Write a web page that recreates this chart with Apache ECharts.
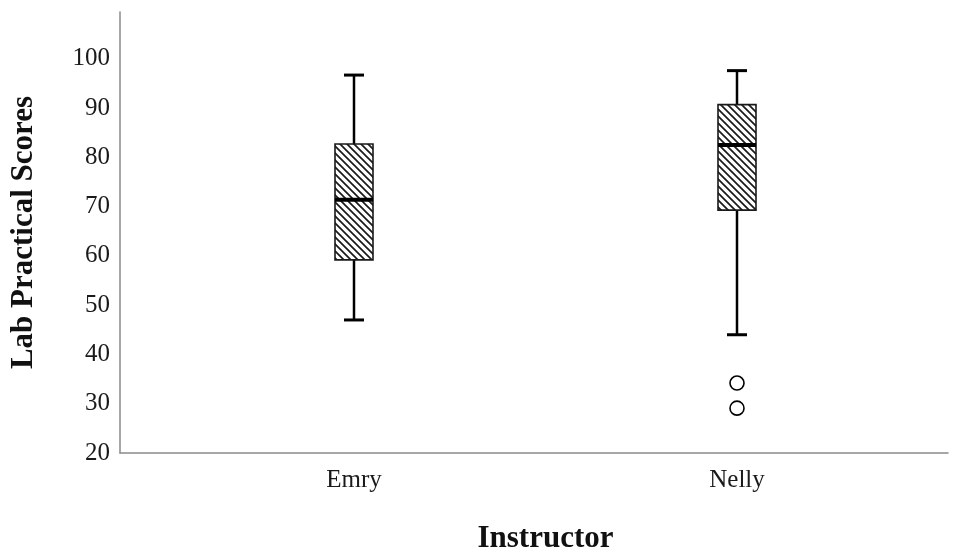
<!DOCTYPE html>
<html><head><meta charset="utf-8">
<script src="https://cdn.jsdelivr.net/npm/echarts@6/dist/echarts.min.js"></script>
<style>html,body{margin:0;padding:0;background:#fff}#chart{width:958px;height:547px}</style>
</head><body><div id="chart"></div>
<script>
// ---- data ----
const categories = ['Emry', 'Nelly'];
const whiskerLow = [47, 44];
const q1 = [59.2, 69.3];
const median = [71.4, 82.5];
const q3 = [82.7, 90.7];
const whiskerHigh = [96.7, 97.6];
const outlierCats = ['Nelly', 'Nelly'];
const outlierVals = [34.2, 29.1];
const yMin = 20, yMax = 109.5, yInterval = 10;
const xTitle = 'Instructor';
const yTitle = 'Lab Practical Scores';

// ---- hatch pattern ----
function makeHatch() {
  const s = 7;
  const c = document.createElement('canvas');
  c.width = s; c.height = s;
  const g = c.getContext('2d');
  g.fillStyle = '#fff'; g.fillRect(0, 0, s, s);
  g.strokeStyle = '#1a1a1a'; g.lineWidth = 1.7;
  g.beginPath();
  g.moveTo(-1, -1); g.lineTo(s + 1, s + 1);
  g.moveTo(-1, s - 1); g.lineTo(1, s + 1);
  g.moveTo(s - 1, -1); g.lineTo(s + 1, 1);
  g.stroke();
  return { image: c, repeat: 'repeat' };
}
const hatch = makeHatch();

const boxData = categories.map((c, i) => [i, whiskerLow[i], q1[i], median[i], q3[i], whiskerHigh[i]]);
const outlierData = outlierCats.map((c, i) => [c, outlierVals[i]]);

const serif = 'Liberation Serif';
const chart = echarts.init(document.getElementById('chart'), null, { renderer: 'canvas' });
chart.setOption({
  animation: false,
  backgroundColor: '#fff',
  grid: [
    { left: 120, right: 10, top: 12, bottom: 94, outerBoundsMode: 'none', containLabel: false },
    { left: 162.5, right: 29.5, top: 12, bottom: 94, outerBoundsMode: 'none', containLabel: false }
  ],
  xAxis: [
    { gridIndex: 0, type: 'value', min: 0, max: 1,
      axisLine: { show: true, onZero: false, lineStyle: { color: '#8a8a8a', width: 1.5 } },
      axisTick: { show: false }, axisLabel: { show: false }, splitLine: { show: false } },
    { gridIndex: 1, type: 'category', data: categories,
      axisLine: { show: false }, axisTick: { show: false }, splitLine: { show: false },
      axisLabel: { fontFamily: serif, fontSize: 25, color: '#1a1a1a', margin: 15 },
      name: xTitle, nameLocation: 'middle', nameGap: 70,
      nameTextStyle: { fontFamily: serif, fontSize: 31, fontWeight: 'bold', color: '#111' } }
  ],
  yAxis: [
    { gridIndex: 0, type: 'value', min: yMin, max: yMax, interval: yInterval,
      axisLine: { show: true, onZero: false, lineStyle: { color: '#8a8a8a', width: 1.5 } },
      axisTick: { show: false }, splitLine: { show: false },
      axisLabel: { fontFamily: serif, fontSize: 25, color: '#1a1a1a', margin: 10, showMaxLabel: false },
      name: yTitle, nameLocation: 'middle', nameGap: 81,
      nameTextStyle: { fontFamily: serif, fontSize: 31, fontWeight: 'bold', color: '#111' } },
    { gridIndex: 1, type: 'value', min: yMin, max: yMax, interval: yInterval, show: false,
      splitLine: { show: false } }
  ],
  series: [
    {
      type: 'custom', xAxisIndex: 1, yAxisIndex: 1,
      data: boxData,
      encode: { x: 0, y: [1, 2, 3, 4, 5] },
      renderItem: function (params, api) {
        const xi = api.value(0);
        const pLow = api.coord([xi, api.value(1)]);
        const pQ1 = api.coord([xi, api.value(2)]);
        const pMed = api.coord([xi, api.value(3)]);
        const pQ3 = api.coord([xi, api.value(4)]);
        const pHigh = api.coord([xi, api.value(5)]);
        const cx = pLow[0];
        const half = 19, capHalf = 10;
        const ws = { stroke: '#000', lineWidth: 2.5 };
        return {
          type: 'group',
          children: [
            { type: 'line', shape: { x1: cx, y1: pLow[1], x2: cx, y2: pQ1[1] }, style: ws },
            { type: 'line', shape: { x1: cx, y1: pQ3[1], x2: cx, y2: pHigh[1] }, style: ws },
            { type: 'line', shape: { x1: cx - capHalf, y1: pLow[1], x2: cx + capHalf, y2: pLow[1] }, style: { stroke: '#000', lineWidth: 3 } },
            { type: 'line', shape: { x1: cx - capHalf, y1: pHigh[1], x2: cx + capHalf, y2: pHigh[1] }, style: { stroke: '#000', lineWidth: 3 } },
            { type: 'rect', shape: { x: cx - half, y: pQ3[1], width: 2 * half, height: pQ1[1] - pQ3[1] },
              style: { fill: hatch, stroke: '#1a1a1a', lineWidth: 1.6 } },
            { type: 'line', shape: { x1: cx - half, y1: pMed[1], x2: cx + half, y2: pMed[1] }, style: { stroke: '#000', lineWidth: 4 } }
          ]
        };
      }
    },
    {
      type: 'scatter', xAxisIndex: 1, yAxisIndex: 1,
      data: outlierData,
      symbol: 'circle', symbolSize: 14,
      itemStyle: { color: '#fff', borderColor: '#000', borderWidth: 1.6, opacity: 1 }
    }
  ]
});
</script>
</body></html>
